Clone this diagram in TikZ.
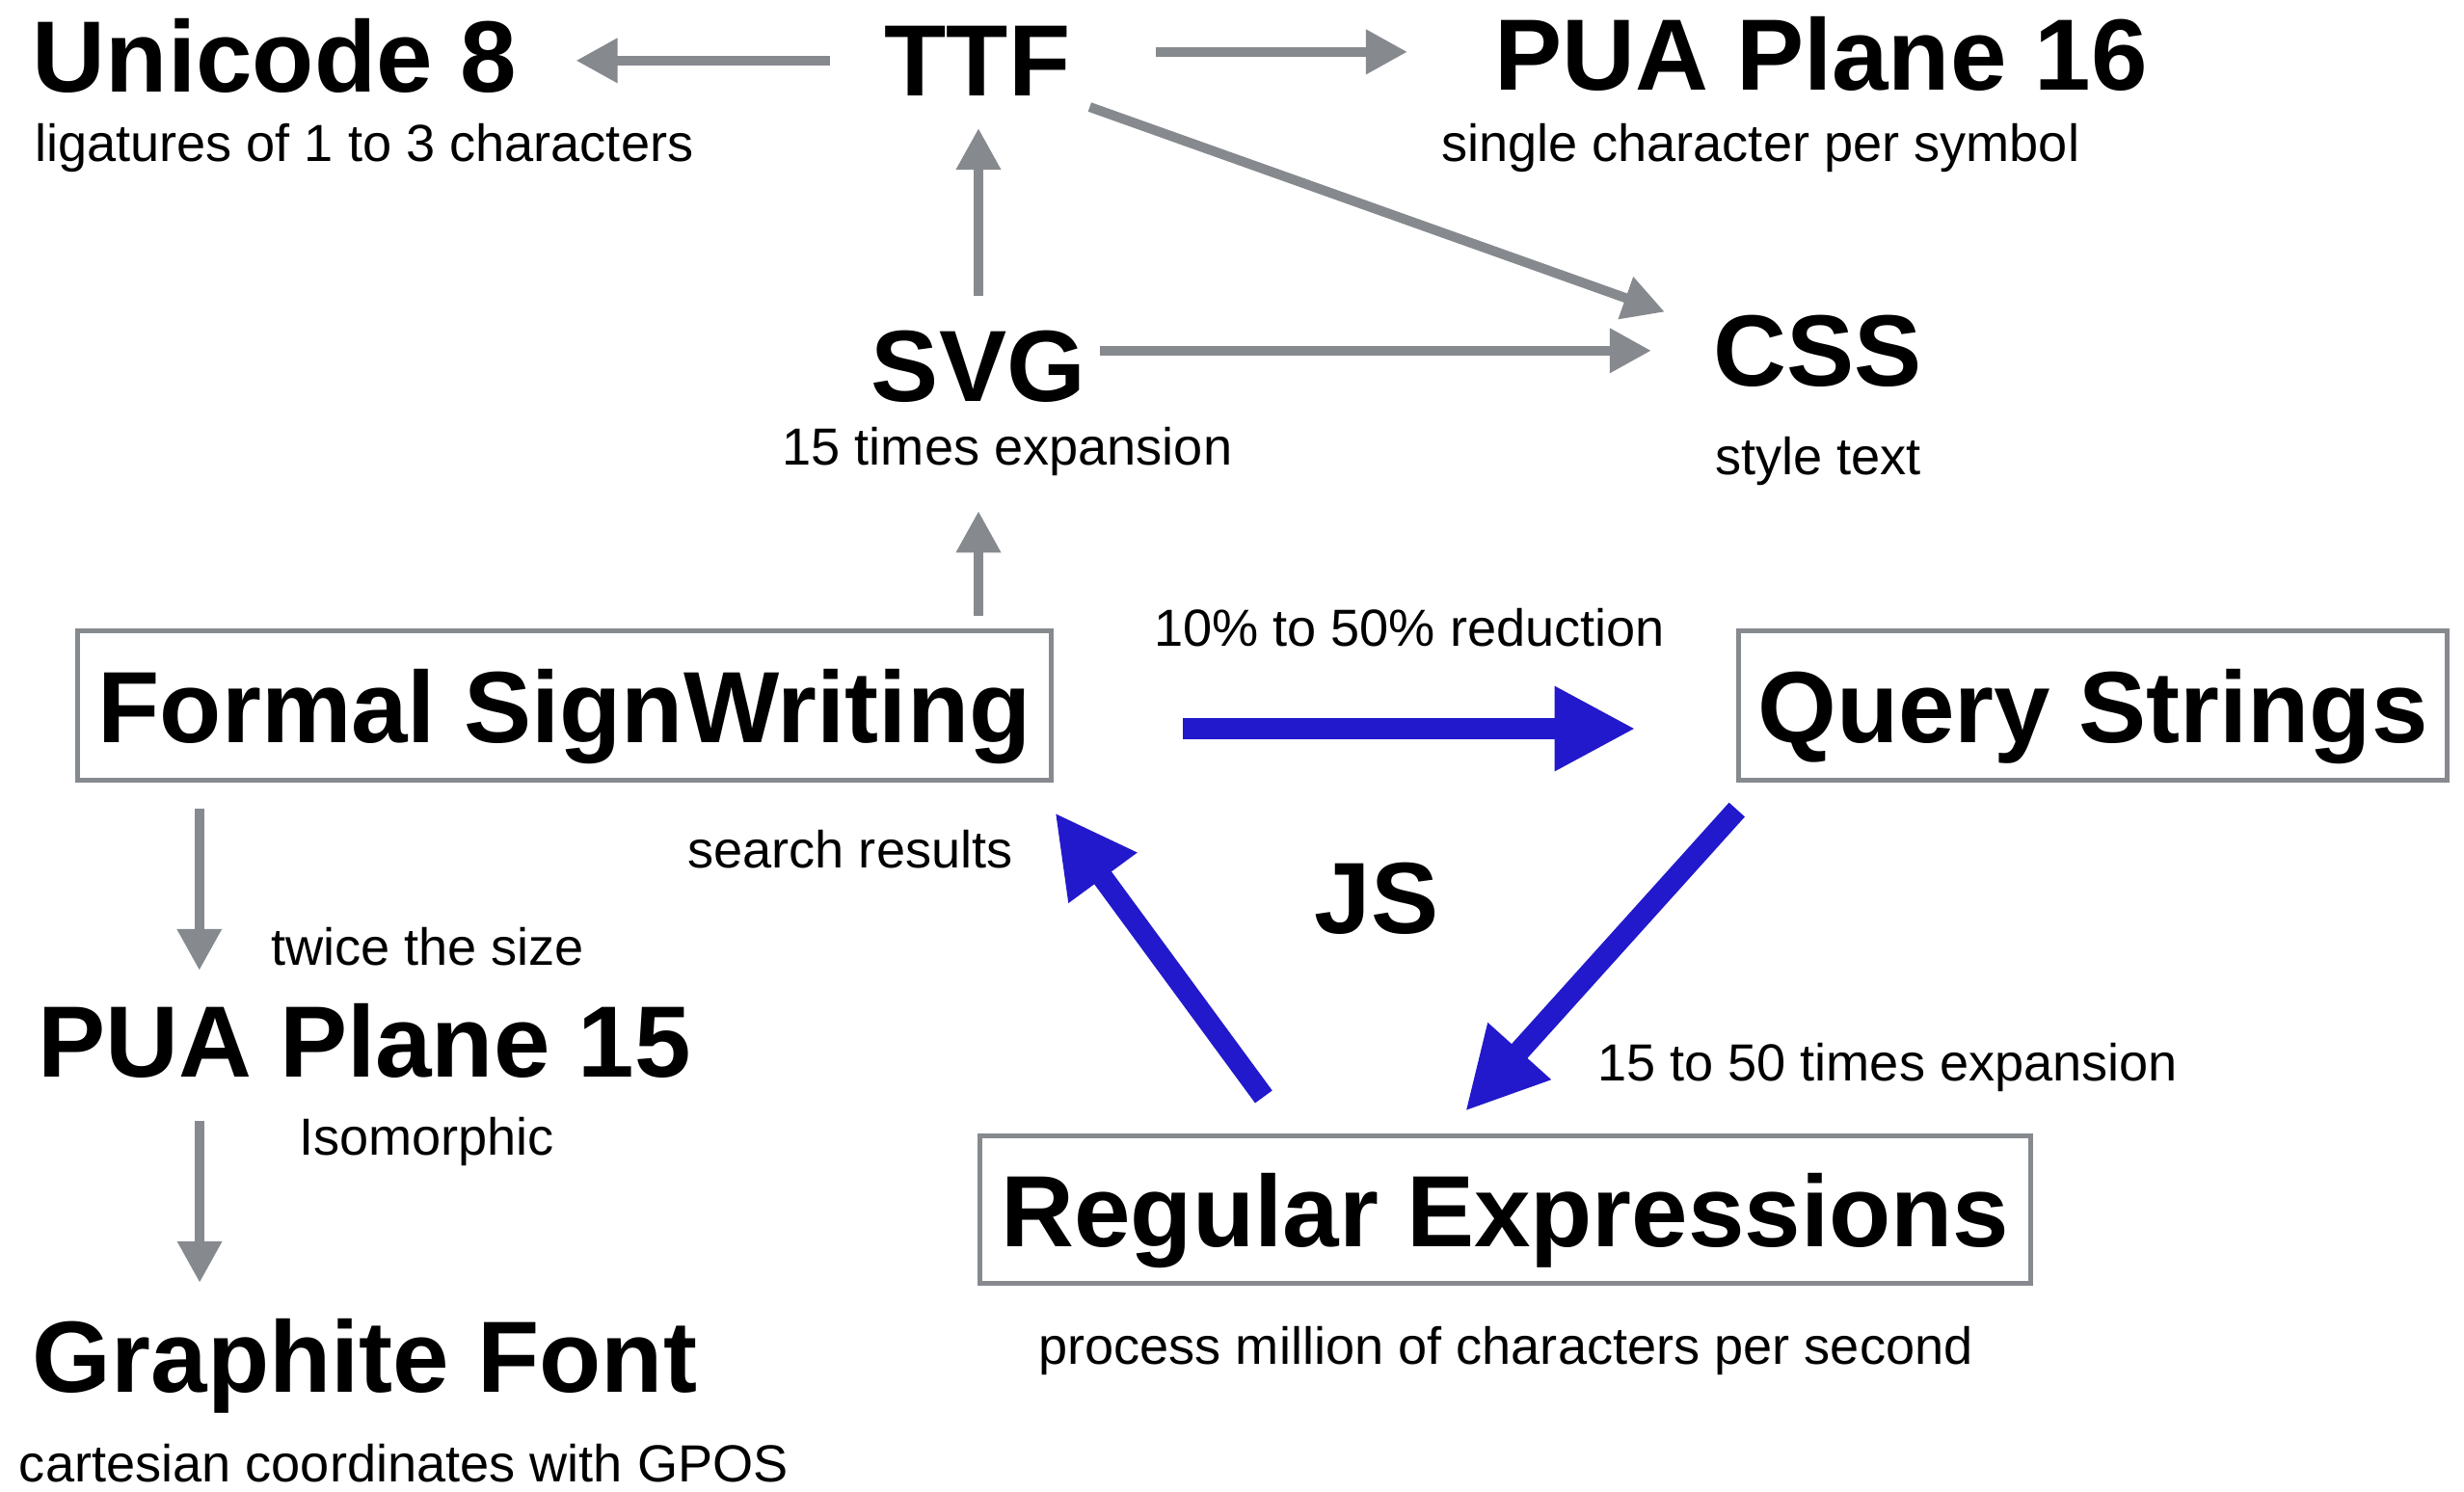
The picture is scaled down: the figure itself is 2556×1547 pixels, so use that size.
\documentclass[tikz,border=0pt]{standalone}
\usepackage{fontspec}
\setmainfont{Liberation Sans}
\usetikzlibrary{arrows.meta}
\definecolor{gline}{RGB}{134,138,143}
\definecolor{bline}{RGB}{34,25,204}
\begin{document}
\begin{tikzpicture}[x=0.01cm,y=-0.01cm,
  head/.style={inner sep=0pt, outer sep=0pt, font=\fontsize{29.9}{34}\selectfont\bfseries},
  sub/.style={inner sep=0pt, outer sep=0pt, font=\fontsize{15.4}{18}\selectfont},
  box/.style={draw=gline, line width=0.05cm, inner sep=0pt, outer sep=0pt, text height=0.77cm, text depth=0pt, font=\fontsize{29.9}{34}\selectfont\bfseries},
  garrow/.style={draw=gline, line width=0.1cm, -{Triangle[length=0.43cm,width=0.44cm]}},
  barrow/.style={draw=bline, line width=0.22cm, -{Triangle[length=0.84cm,width=0.82cm]}}]
\useasboundingbox[fill=white] (0,0) rectangle (2556,1547);

% top row
\node[head, anchor=base west] (u8) at (34,95) {Unicode 8};
\node[sub, anchor=base west] (u8s) at (36,167) {ligatures of 1 to 3 characters};
\node[head, anchor=base] (ttf) at (1014,99) {TTF};
\node[head, anchor=base west] (p16) at (1550,93) {PUA Plane 16};
\node[sub, anchor=base west] (p16s) at (1495,167) {single character per symbol};
\node[head, anchor=base] (svg) at (1015,416) {SVG};
\node[sub, anchor=base] (svgs) at (1045,482) {15 times expansion};
\node[head, anchor=base] (css) at (1886,400) {CSS};
\node[sub, anchor=base] (csss) at (1886,492) {style text};

% boxes
\node[box, minimum width=10.09cm, minimum height=1.54cm] (fsw) at (585.5,732) {Formal SignWriting};
\node[box, minimum width=7.35cm, minimum height=1.55cm] (qs) at (2171,732) {Query Strings};
\node[box, minimum width=10.9cm, minimum height=1.53cm] (re) at (1561.5,1255) {Regular Expressions};

% left column
\node[head, anchor=base west] (p15) at (39,1117) {PUA Plane 15};
\node[sub, anchor=base west] (p15s) at (281,1001) {twice the size};
\node[sub, anchor=base west] (iso) at (310,1198) {Isomorphic};
\node[head, anchor=base west] (gf) at (34,1444) {Graphite Font};
\node[sub, anchor=base west] (gfs) at (20,1537) {cartesian coordinates with GPOS};

% middle labels
\node[sub, anchor=base] (srch) at (882,900) {search results};
\node[head, anchor=base] (js) at (1428,968) {JS};
\node[sub, anchor=base] (red) at (1462,670) {10\% to 50\% reduction};
\node[sub, anchor=base west] (exp) at (1657,1121) {15 to 50 times expansion};
\node[sub, anchor=base] (pm) at (1562,1415) {process million of characters per second};

% gray arrows
\draw[garrow] ([xshift=-0.57cm]ttf.west) -- ([xshift=0.61cm]ttf.west -| u8.east);
\draw[garrow] ([xshift=0.89cm, yshift=0.09cm]ttf.east) -- ([xshift=-0.9cm, yshift=0.09cm]ttf.east -| p16.west);
\draw[garrow] ([xshift=0.2cm, yshift=-0.12cm]ttf.south east) -- ([xshift=-0.51cm, yshift=0.03cm]css.north west);
\draw[garrow] ([xshift=0.15cm, yshift=0.16cm]svg.east) -- ([xshift=-0.65cm, yshift=0.16cm]svg.east -| css.west);
\draw[garrow] ([yshift=0.36cm]svg.north) -- ([yshift=-0.34cm]svg.north |- ttf.south);
\draw[garrow] ([yshift=0.16cm]fsw.north -| svg.south) -- ([yshift=-0.37cm]svgs.south -| svg.south);
\draw[garrow] ([xshift=1.26cm, yshift=-0.3cm]fsw.south west) -- ([xshift=1.26cm, yshift=0.34cm]fsw.south west |- p15.north);
\draw[garrow] ([xshift=1.68cm, yshift=-0.45cm]p15.south west) -- ([xshift=1.68cm, yshift=0.37cm]p15.south west |- gf.north);

% blue arrows
\draw[barrow] ([xshift=1.37cm, yshift=-0.24cm]fsw.east) -- ([xshift=-1.065cm, yshift=-0.24cm]qs.west);
\draw[barrow] ([xshift=-0.015cm, yshift=-0.305cm]qs.south west) -- ([xshift=-0.415cm, yshift=0.255cm]re.north);
\draw[barrow] ([xshift=-2.505cm, yshift=0.405cm]re.north) -- ([xshift=0.04cm, yshift=-0.34cm]fsw.south east);
\end{tikzpicture}
\end{document}
